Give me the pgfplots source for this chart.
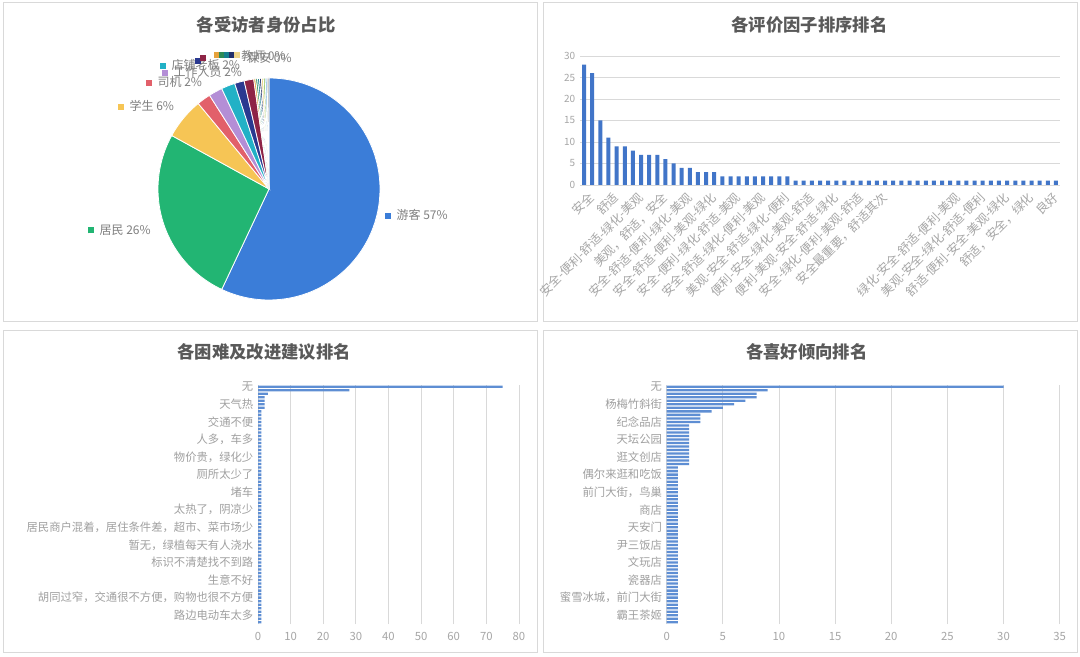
\documentclass[border=0pt]{standalone}
\usepackage{fontspec}
\setmainfont{Noto Sans CJK SC}
\usepackage{pgfplots}
\pgfplotsset{compat=1.18}

\definecolor{framegray}{HTML}{D9D9D9}
\definecolor{gridgray}{HTML}{D9D9D9}
\definecolor{tickgray}{HTML}{A6A6A6}
\definecolor{catgray}{HTML}{A0A0A0}
\definecolor{titlegray}{HTML}{595959}
\definecolor{labgray}{HTML}{7F7F7F}
\definecolor{barblue}{HTML}{4175C8}
\definecolor{hbarblue}{HTML}{5E8ED3}
% pie colours
\definecolor{pBlue}{HTML}{3B7DD8}
\definecolor{pGreen}{HTML}{22B573}
\definecolor{pYellow}{HTML}{F6C555}
\definecolor{pRed}{HTML}{E2606A}
\definecolor{pPurple}{HTML}{B48ED6}
\definecolor{pTeal}{HTML}{22B1C6}
\definecolor{pNavy}{HTML}{2A3990}
\definecolor{pMaroon}{HTML}{8E2446}
\definecolor{pOrange}{HTML}{E6A23C}
\definecolor{pDkGreen}{HTML}{2E8B57}
\definecolor{pDkTeal}{HTML}{167F8F}
\definecolor{pDkNavy}{HTML}{23306B}
\definecolor{pSand}{HTML}{EED48A}
\definecolor{pLime}{HTML}{9BCB6B}
\definecolor{pSky}{HTML}{8FC1E8}
\definecolor{pGray}{HTML}{B0B0B0}

% one pie slice: colour, share in percent (clockwise from the top)
\def\piestart{90}
\newcommand\pieslice[2]{%
  \pgfmathsetmacro\pieend{\piestart-3.6*#2}%
  \edef\pietemp{\noexpand\addplot[fill=#1, draw=white, line width=0.6pt]
    coordinates {(0,0)} -- ++(\piestart:83.25pt)
    arc[start angle=\piestart, end angle=\pieend, radius=83.25pt] -- cycle;}%
  \pietemp
  \global\let\piestart\pieend}
% label with its little square
\newcommand\pielab[4]{%
  \node[anchor=west, inner sep=0pt, text=labgray, font=\fontsize{9}{10}\selectfont]
    at (axis cs:#1,#2) {\textcolor{#3}{\rule[0.6pt]{4.5pt}{4.5pt}}\hspace{4pt}#4};}
\newcommand\piesq[3]{%
  \node[fill=#3, inner sep=0pt, minimum size=4.5pt] at (axis cs:#1,#2) {};}

\tikzset{ptitle/.style={text=titlegray, font=\fontsize{13}{15}\selectfont\bfseries}}

\begin{document}
\begin{tikzpicture}
\useasboundingbox (0,0) rectangle (810pt,492pt);
\fill[white] (0,0) rectangle (810pt,492pt);
\draw[framegray, line width=0.75pt] (2.25pt,250.5pt) rectangle (402.75pt,489.75pt);
\draw[framegray, line width=0.75pt] (407.25pt,250.5pt) rectangle (807.75pt,489.75pt);
\draw[framegray, line width=0.75pt] (2.25pt,3pt) rectangle (402.75pt,243.75pt);
\draw[framegray, line width=0.75pt] (407.25pt,3pt) rectangle (807.75pt,243.75pt);

\node[ptitle] at (199.5pt,473.25pt) {各受访者身份占比};
\node[ptitle] at (607pt,473.25pt) {各评价因子排序排名};
\node[ptitle] at (198pt,228pt) {各困难及改进建议排名};
\node[ptitle] at (605pt,228pt) {各喜好倾向排名};

% ---------------- pie ----------------
\begin{axis}[at={(201.75pt,350.25pt)}, anchor=origin, x=0.75pt, y=0.75pt,
  hide axis, xmin=-200, xmax=200, ymin=-150, ymax=150, clip=false]
\pieslice{pBlue}{57}
\pieslice{pGreen}{26}
\pieslice{pYellow}{6}
\pieslice{pRed}{2}
\pieslice{pPurple}{2}
\pieslice{pTeal}{2}
\pieslice{pNavy}{1.4}
\pieslice{pMaroon}{1.4}
\pieslice{pOrange}{0.275}
\pieslice{pDkGreen}{0.275}
\pieslice{pDkTeal}{0.275}
\pieslice{pDkNavy}{0.275}
\pieslice{pSand}{0.275}
\pieslice{pLime}{0.275}
\pieslice{pSky}{0.275}
\pieslice{pGray}{0.275}
\pielab{116}{-26}{pBlue}{游客 57\%}
\pielab{-181}{-41}{pGreen}{居民 26\%}
\pielab{-151}{83}{pYellow}{学生 6\%}
\pielab{-123}{107}{pRed}{司机 2\%}
\pielab{-107}{117}{pPurple}{工作人员 2\%}
\pielab{-109}{124}{pTeal}{店铺老板 2\%}
\piesq{-71}{128}{pNavy}
\piesq{-66}{131}{pMaroon}
\piesq{-52}{134}{pOrange}
\piesq{-47}{134}{pDkGreen}
\piesq{-42}{134}{pDkTeal}
\piesq{-37}{134}{pDkNavy}
\piesq{-32}{134}{pSand}
\node[anchor=west, inner sep=0pt, text=labgray, font=\fontsize{9}{10}\selectfont] at (axis cs:-28,133) {教师 0\%};
\node[anchor=west, inner sep=0pt, text=labgray, font=\fontsize{9}{10}\selectfont] at (axis cs:-22,131) {保安 0\%};
\end{axis}

% ---------------- ranking of evaluation factors ----------------
\begin{axis}[at={(435pt,353.25pt)}, anchor=south west, scale only axis,
  width=360pt, height=96.75pt,
  ybar, bar width=3pt,
  xmin=-0.5, xmax=58.5, ymin=0, ymax=30,
  ytick={0,5,...,30}, xtick={0,3,...,57},
  xticklabels={安全, 舒适, 安全-便利-舒适-绿化-美观, 美观，舒适，安全,
    安全-舒适-便利-绿化-美观, 安全-舒适-便利-美观-绿化, 安全-便利-绿化-舒适-美观,
    安全-舒适-绿化-便利-美观, 美观-安全-舒适-绿化-便利, 便利-安全-绿化-美观-舒适,
    便利-美观-安全-舒适-绿化, 安全-绿化-便利-美观-舒适, 安全最重要，舒适其次, {}, {},
    绿化-安全-舒适-便利-美观, 美观-安全-绿化-舒适-便利, 舒适-便利-安全-美观-绿化,
    舒适，安全，绿化, 良好},
  ymajorgrids, grid style={gridgray, line width=0.6pt},
  axis line style={draw=none}, major tick length=0pt,
  yticklabel style={text=tickgray, font=\fontsize{7.5}{9}\selectfont},
  xticklabel style={text=tickgray, font=\fontsize{9.2}{10}\selectfont,
    rotate=45, anchor=north east, inner sep=1pt, yshift=-4pt},
  /pgf/number format/assume math mode=true]
\addplot[fill=barblue, draw=none] coordinates {
  (0,28) (1,26) (2,15) (3,11) (4,9) (5,9) (6,8) (7,7) (8,7) (9,7)
  (10,6) (11,5) (12,4) (13,4) (14,3) (15,3) (16,3) (17,2) (18,2) (19,2)
  (20,2) (21,2) (22,2) (23,2) (24,2) (25,2) (26,1) (27,1) (28,1) (29,1)
  (30,1) (31,1) (32,1) (33,1) (34,1) (35,1) (36,1) (37,1) (38,1) (39,1)
  (40,1) (41,1) (42,1) (43,1) (44,1) (45,1) (46,1) (47,1) (48,1) (49,1)
  (50,1) (51,1) (52,1) (53,1) (54,1) (55,1) (56,1) (57,1) (58,1)};
\end{axis}

% ---------------- difficulties and suggestions ----------------
\begin{axis}[at={(193.5pt,24pt)}, anchor=south west, scale only axis,
  width=195.75pt, height=179.25pt,
  xbar, bar width=0.65,
  xmin=0, xmax=80, ymin=-0.5, ymax=67.5,
  xtick={0,10,...,80}, ytick={2,7,...,67},
  yticklabels={路边电动车太多, 胡同过窄，交通很不方便，购物也很不方便, 生意不好,
    标识不清楚找不到路, 暂无，绿植每天有人浇水, 居民商户混着，居住条件差，超市、菜市场少,
    太热了，阴凉少, 堵车, 厕所太少了, 物价贵，绿化少, 人多，车多, 交通不便, 天气热, 无},
  xmajorgrids, grid style={gridgray, line width=0.6pt},
  axis line style={draw=none}, major tick length=0pt,
  tick label style={font=\fontsize{8.5}{10}\selectfont},
  xticklabel style={text=tickgray, yshift=-3pt},
  yticklabel style={text=catgray},
  /pgf/number format/assume math mode=true]
\addplot[fill=hbarblue, draw=none] coordinates {
  (75,67) (28,66) (3,65) (2,64) (2,63) (2,62) (2,61) (1,60) (1,59) (1,58)
  (1,57) (1,56) (1,55) (1,54) (1,53) (1,52) (1,51) (1,50) (1,49) (1,48)
  (1,47) (1,46) (1,45) (1,44) (1,43) (1,42) (1,41) (1,40) (1,39) (1,38)
  (1,37) (1,36) (1,35) (1,34) (1,33) (1,32) (1,31) (1,30) (1,29) (1,28)
  (1,27) (1,26) (1,25) (1,24) (1,23) (1,22) (1,21) (1,20) (1,19) (1,18)
  (1,17) (1,16) (1,15) (1,14) (1,13) (1,12) (1,11) (1,10) (1,9) (1,8)
  (1,7) (1,6) (1,5) (1,4) (1,3) (1,2) (1,1) (1,0)};
\end{axis}

% ---------------- preferences ----------------
\begin{axis}[at={(500pt,24pt)}, anchor=south west, scale only axis,
  width=294.75pt, height=179.25pt,
  xbar, bar width=0.65,
  xmin=0, xmax=35, ymin=-0.5, ymax=67.5,
  xtick={0,5,...,35}, ytick={2,7,...,67},
  yticklabels={霸王茶姬, 蜜雪冰城，前门大街, 瓷器店, 文玩店, 尹三饭店, 天安门, 商店,
    前门大街，鸟巢, 偶尔来逛和吃饭, 逛文创店, 天坛公园, 纪念品店, 杨梅竹斜街, 无},
  xmajorgrids, grid style={gridgray, line width=0.6pt},
  axis line style={draw=none}, major tick length=0pt,
  tick label style={font=\fontsize{8.5}{10}\selectfont},
  xticklabel style={text=tickgray, yshift=-3pt},
  yticklabel style={text=catgray},
  /pgf/number format/assume math mode=true]
\addplot[fill=hbarblue, draw=none] coordinates {
  (30,67) (9,66) (8,65) (8,64) (7,63) (6,62) (5,61) (4,60) (3,59) (3,58)
  (3,57) (2,56) (2,55) (2,54) (2,53) (2,52) (2,51) (2,50) (2,49) (2,48)
  (2,47) (2,46) (2,45) (1,44) (1,43) (1,42) (1,41) (1,40) (1,39) (1,38)
  (1,37) (1,36) (1,35) (1,34) (1,33) (1,32) (1,31) (1,30) (1,29) (1,28)
  (1,27) (1,26) (1,25) (1,24) (1,23) (1,22) (1,21) (1,20) (1,19) (1,18)
  (1,17) (1,16) (1,15) (1,14) (1,13) (1,12) (1,11) (1,10) (1,9) (1,8)
  (1,7) (1,6) (1,5) (1,4) (1,3) (1,2) (1,1) (1,0)};
\end{axis}
\end{tikzpicture}
\end{document}
